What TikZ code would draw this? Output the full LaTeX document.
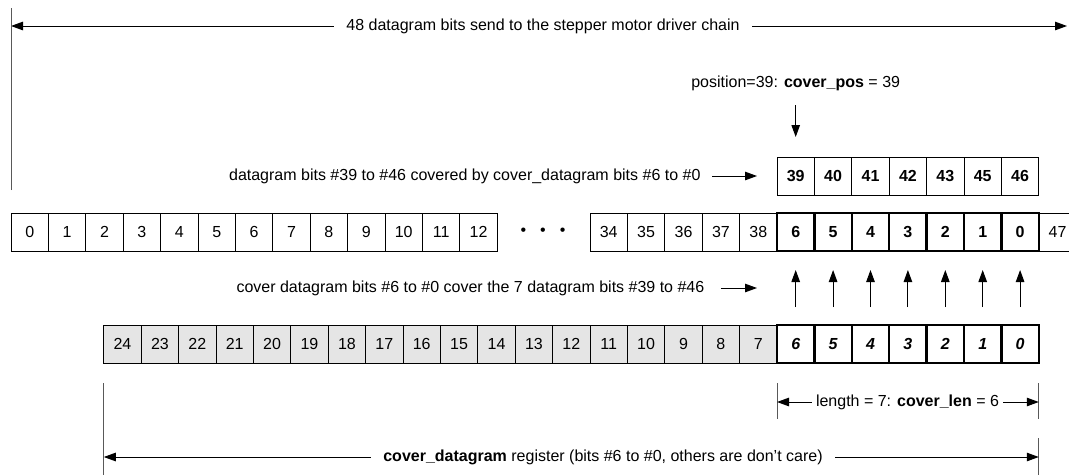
\documentclass[tikz,border=0pt]{standalone}
\usepackage{fontspec}
\setmainfont{Liberation Sans}
\usetikzlibrary{arrows.meta,positioning}
\begin{document}
\begin{tikzpicture}[x=1pt,y=-1pt,line width=1pt,
		font=\fontsize{16}{19}\selectfont,
		cell/.style={draw,minimum width=37.4pt,minimum height=38pt,inner sep=0,outer sep=0},
		covcell/.style={cell,line width=2.5pt,font=\fontsize{16}{19}\selectfont\bfseries},
		topcell/.style={cell,font=\fontsize{16}{19}\selectfont\bfseries},
		regcell/.style={cell,fill=black!10},
		regcov/.style={covcell,font=\fontsize{16}{19}\selectfont\bfseries\itshape},
		arr/.style={-{Triangle[length=12pt,width=8.5pt]}},
		dimlab/.style={inner xsep=12pt,inner ysep=0},
		ext/.style={draw=black!65}]
		\useasboundingbox (0,0) rectangle (1069,475);
		% datagram chain
		\foreach \i in {0,...,12}
			\node[cell] (m\i) at ({29.7+37.4*\i},232) {\i};
		\node (dots) at (543,232) {•\hspace{14pt}•\hspace{14pt}•};
		\foreach \i in {34,...,38}
			\node[cell] (m\i) at ({777-18.7-37.4*(38-\i)},232) {\i};
		\node[cell] (m47) at ({795.7+37.4*7},232) {47};
		\foreach \k in {0,...,6}
			\node[covcell] (mc\k) at ({795.7+37.4*(6-\k)},232) {\k};
		% covered datagram bits
		\foreach \n [count=\k from 0] in {39,40,41,42,43,45,46}
			\node[topcell] (t\k) at ({795.7+37.4*\k},176) {\n};
		% cover_datagram register
		\foreach \i in {7,...,24}
			\node[regcell] (b\i) at ({777-18.7-37.4*(\i-7)},344) {\i};
		\foreach \k in {0,...,6}
			\node[regcov] (bc\k) at ({795.7+37.4*(6-\k)},344) {\k};
		\foreach \k in {0,...,6}
			\draw[arr] ([yshift=18pt]bc\k.north) -- ([yshift=-19pt]mc\k.south);
		% labels
		\node[dimlab] (title) at (543,26) {48 datagram bits send to the stepper motor driver chain};
		\coordinate (titleR) at (1067,26);
		\draw[arr] (title) -- (title -| m0.west);
		\draw[arr] (title) -- (titleR);
		\draw[ext] ([yshift=23pt]m0.north west) -- (11,8);
		\node (poslab) at (795.7,83) {position=39: \textbf{cover\_pos} = 39};
		\draw[arr] ([yshift=-11pt]poslab.south) -- ([yshift=20pt]t0.north);
		\node[anchor=east,inner sep=0] (covlab) at (701,176) {datagram bits \#39 to \#46 covered by cover\_datagram bits \#6 to \#0};
		\draw[arr] ([xshift=11pt]covlab.east) -- ([xshift=-20pt]t0.west);
		\node[anchor=west,inner sep=0] (uplab) at (236,288) {cover datagram bits \#6 to \#0 cover the 7 datagram bits \#39 to \#46};
		\draw[arr] ([xshift=16pt]uplab.east) -- ([xshift=-20pt]uplab.east -| mc6.west);
		\draw[ext] ([yshift=-20pt]bc6.south west) -- ++(0,36);
		\draw[ext] ([yshift=-20pt]bc0.south east) -- ++(0,36);
		\node[dimlab,inner xsep=4pt] (lenlab) at (907.5,402) {length = 7: \textbf{cover\_len} = 6};
		\draw[arr] (lenlab) -- (lenlab -| bc6.west);
		\draw[arr] (lenlab) -- (lenlab -| bc0.east);
		\draw[ext] ([yshift=-20pt]b24.south west) -- ++(0,92);
		\draw[ext] ([yshift=-75pt]bc0.south east) -- ++(0,37);
		\node[dimlab] (reglab) at (603,457) {\textbf{cover\_datagram} register (bits \#6 to \#0, others are don't care)};
		\draw[arr] (reglab) -- (reglab -| b24.west);
		\draw[arr] (reglab) -- (reglab -| bc0.east);
\end{tikzpicture}
\end{document}
